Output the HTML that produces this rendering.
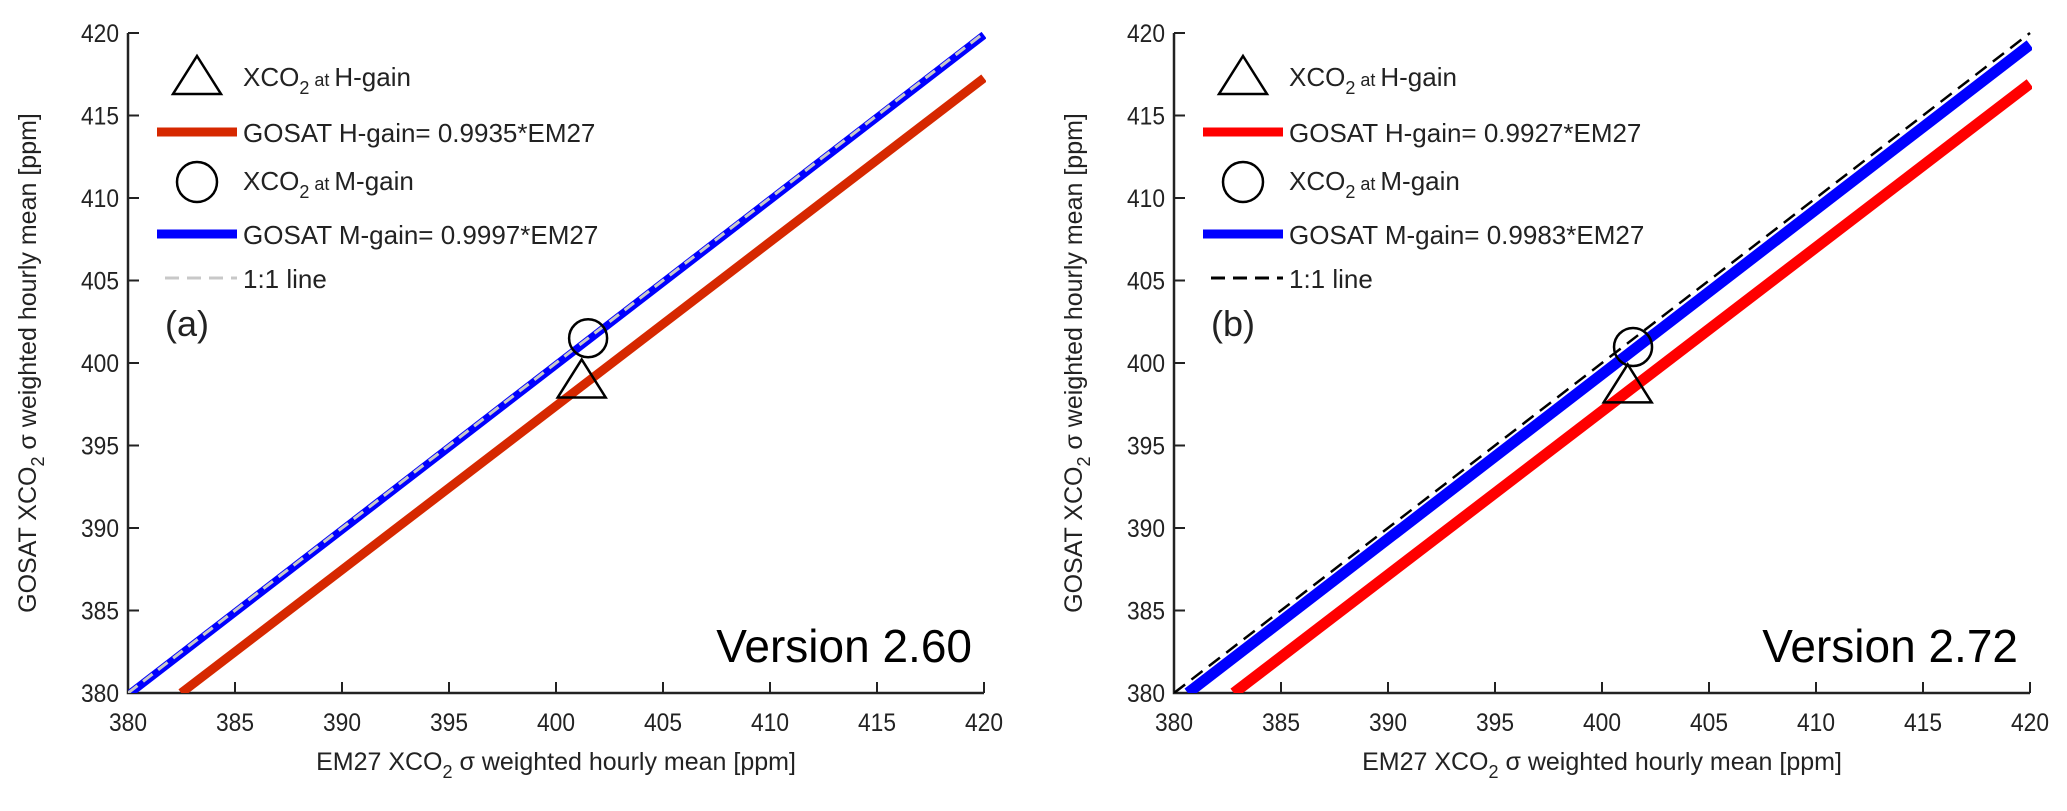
<!DOCTYPE html>
<html><head><meta charset="utf-8"><style>
body{margin:0;background:#fff}
svg text{font-family:"Liberation Sans",sans-serif;fill:#222}
</style></head><body>
<svg id="c" width="2067" height="806" xmlns="http://www.w3.org/2000/svg"></svg>
<script>
const xTicks=[380,385,390,395,400,405,410,415,420];
const yTicks=[380,385,390,395,400,405,410,415,420];
const panelIds=["a","b"];
const versions=["Version 2.60","Version 2.72"];
const hSlopes=[0.9935,0.9927];
const mSlopes=[0.9997,0.9983];
const hPointX=[401.2,401.2], hPointY=[398.7,398.4];
const mPointX=[401.5,401.45], mPointY=[401.5,400.97];
const panelLeft=[128,1174];
const NS="http://www.w3.org/2000/svg";
const svg=document.getElementById('c');
function mk(tag,attrs,parent){const e=document.createElementNS(NS,tag);for(const k in attrs)e.setAttribute(k,attrs[k]);(parent||svg).appendChild(e);return e;}
const redCols=["#d62800","#ff0000"];
const oneCols=["#c8c8c8","#000"];
for(let p=0;p<2;p++){
  const L=panelLeft[p],R=L+856,T=33,B=693;
  const sx=v=>L+(v-380)/40*(R-L);
  const sy=v=>B-(v-380)/40*(B-T);
  const g=mk('g',{});
  
  
  const clip=mk('clipPath',{id:'cl'+p},g);mk('rect',{x:L,y:T-2,width:R-L+2,height:B-T+2},clip);
  // axes
  const ax=mk('path',{d:`M${L},${T}V${B}H${R}`,stroke:'#222','stroke-width':2.5,fill:'none'},g);
  
  xTicks.forEach(v=>{mk('line',{x1:sx(v),x2:sx(v),y1:B,y2:B-11,stroke:'#222','stroke-width':2},g);
    const t=mk('text',{x:sx(v),y:B+38,'font-size':25,'text-anchor':'middle',textLength:38,lengthAdjust:'spacingAndGlyphs'},g);t.textContent=v;
    });
  yTicks.forEach(v=>{mk('line',{x1:L,x2:L+11,y1:sy(v),y2:sy(v),stroke:'#222','stroke-width':2},g);
    const t=mk('text',{x:L-9,y:sy(v)+9,'font-size':25,'text-anchor':'end',textLength:38,lengthAdjust:'spacingAndGlyphs'},g);t.textContent=v;
    });
  const xl=mk('text',{x:(L+R)/2,y:770,'font-size':25,'text-anchor':'middle'},g);
  xl.innerHTML='EM27 XCO<tspan font-size="18" dy="8">2</tspan><tspan dy="-8"> σ weighted hourly mean [ppm]</tspan>';
  
  const yl=mk('text',{x:0,y:0,'font-size':25,'text-anchor':'middle',transform:`translate(${L-92},${(T+B)/2}) rotate(-90)`},g);
  yl.innerHTML='GOSAT XCO<tspan font-size="18" dy="8">2</tspan><tspan dy="-8"> σ weighted hourly mean [ppm]</tspan>';
  
  const lg=mk('g',{'clip-path':`url(#cl${p})`},g);
  // fit lines
  const hs=hSlopes[p],ms=mSlopes[p];
  const h=mk('line',{x1:sx(380/hs),y1:sy(380),x2:sx(420),y2:sy(420*hs),stroke:redCols[p],'stroke-width':p?11:9},lg);
  
  const m=mk('line',{x1:sx(380/ms),y1:sy(380),x2:sx(420),y2:sy(420*ms),stroke:'#0000ff','stroke-width':p?11:8},lg);
  
  const o=mk('line',{x1:sx(380),y1:sy(380),x2:sx(420),y2:sy(420),stroke:oneCols[p],'stroke-width':p?2.5:3,'stroke-dasharray':p?'14 8':'12 7'},lg);
  
  // markers
  const cx=sx(mPointX[p]),cy=sy(mPointY[p]);
  const c=mk('circle',{cx:cx,cy:cy,r:19,fill:'none',stroke:'#000','stroke-width':2.5},g);
  
  const tx=sx(hPointX[p]),ty=sy(hPointY[p]);
  const tr=mk('path',{d:`M${tx},${ty-25}L${tx+24},${ty+13}H${tx-24}Z`,fill:'none',stroke:'#000','stroke-width':2.5},g);
  
  // legend
  const lx=L+29, txx=L+115;
  const leg=mk('g',{},g);
  mk('path',{d:`M${L+69},${56}L${L+93},${94}H${L+45}Z`,fill:'none',stroke:'#000','stroke-width':2.5},leg);
  let t=mk('text',{x:txx,y:86,'font-size':26},leg);t.innerHTML='XCO<tspan font-size="18" dy="8">2</tspan><tspan font-size="18" dy="-8"> at </tspan>H-gain';
  mk('line',{x1:lx,x2:lx+80,y1:132,y2:132,stroke:redCols[p],'stroke-width':9},leg);
  t=mk('text',{x:txx,y:142,'font-size':26},leg);t.textContent='GOSAT H-gain= '+hSlopes[p]+'*EM27';
  mk('circle',{cx:L+69,cy:182,r:20,fill:'none',stroke:'#000','stroke-width':2.5},leg);
  t=mk('text',{x:txx,y:190,'font-size':26},leg);t.innerHTML='XCO<tspan font-size="18" dy="8">2</tspan><tspan font-size="18" dy="-8"> at </tspan>M-gain';
  mk('line',{x1:lx,x2:lx+80,y1:234,y2:234,stroke:'#0000ff','stroke-width':9},leg);
  t=mk('text',{x:txx,y:244,'font-size':26},leg);t.textContent='GOSAT M-gain= '+mSlopes[p]+'*EM27';
  mk('line',{x1:lx+8,x2:lx+80,y1:278,y2:278,stroke:oneCols[p],'stroke-width':3,'stroke-dasharray':'14 8'},leg);
  t=mk('text',{x:txx,y:288,'font-size':26},leg);t.textContent='1:1 line';
  const pl=mk('text',{x:L+37,y:336,'font-size':36},g);pl.textContent='('+panelIds[p]+')';
  
  const vt=mk('text',{x:R-12,y:662,'font-size':46,'text-anchor':'end'},g);vt.textContent=versions[p];
  vt.style.fill='#000';
  
}
</script>
</body></html>
